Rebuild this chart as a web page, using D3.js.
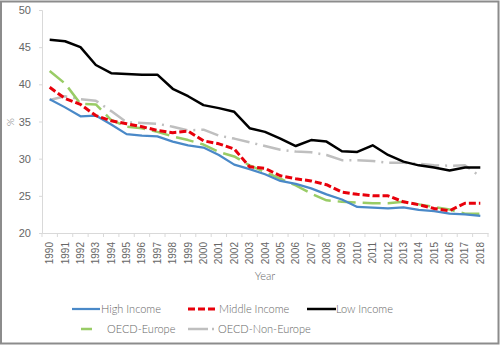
<!DOCTYPE html>
<html>
<head>
<meta charset="utf-8">
<script src="https://cdn.jsdelivr.net/npm/d3@7"></script>
<style>
  body { margin: 0; background: #fff; }
  svg { display: block; font-family: "Lato", "Open Sans", sans-serif; }
</style>
</head>
<body>
<div id="chart"></div>
<script>
const years = d3.range(1990, 2019);
const highIncome = [38.0, 36.9, 35.7, 35.8, 34.6, 33.3, 33.1, 33.0, 32.3, 31.8, 31.5, 30.5, 29.2, 28.6, 27.9, 27.0, 26.6, 26.0, 25.2,
  24.5, 23.5, 23.4, 23.3, 23.45, 23.1, 22.95, 22.6, 22.5, 22.3];
const middleIncome = [39.6, 38.1, 37.3, 35.8, 35.1, 34.7, 34.3, 33.8, 33.5, 33.7, 32.4, 32.0, 31.3, 28.9, 28.7, 27.7, 27.3, 27.0, 26.5,
  25.5, 25.2, 25.0, 25.0, 24.2, 23.8, 23.3, 23.0, 24.0, 24.0];
const lowIncome = [46.0, 45.8, 45.0, 42.6, 41.5, 41.4, 41.3, 41.3, 39.4, 38.4, 37.2, 36.8, 36.3, 34.1, 33.6, 32.7, 31.7, 32.5, 32.3,
  31.0, 30.9, 31.8, 30.5, 29.6, 29.1, 28.8, 28.4, 28.8, 28.8];
const oecdEurope = [41.8, 40.1, 37.4, 37.3, 35.2, 34.3, 34.1, 33.6, 33.0, 32.5, 31.9, 30.9, 30.3, 29.1, 28.2, 27.3, 26.4, 25.3, 24.4,
  24.2, 24.1, 24.0, 24.0, 24.2, 23.85, 23.5, 23.15, 22.6, 22.6];
const oecdNonEurope = [37.9, 38.4, 38.0, 37.8, 36.4, 34.9, 34.8, 34.7, 34.3, 33.8, 33.9, 33.1, 32.7, 32.2, 31.7, 31.2, 30.95, 30.85, 30.5,
  29.8, 29.8, 29.7, 29.45, 29.45, 29.3, 29.1, 29.05, 29.1, 27.6];
const yTicks = [20, 25, 30, 35, 40, 45, 50];

const series = [
  { name: "High Income", values: highIncome, color: "#4a89c8", width: 2.25, dash: null },
  { name: "Middle Income", values: middleIncome, color: "#e8000b", width: 3, dash: "7 3" },
  { name: "Low Income", values: lowIncome, color: "#000000", width: 2.5, dash: null },
  { name: "OECD-Europe", values: oecdEurope, color: "#99cc66", width: 2.5, dash: "18 7" },
  { name: "OECD-Non-Europe", values: oecdNonEurope, color: "#bfbfbf", width: 2.5, dash: "18 6 2 6" }
];

const W = 502, H = 347;
const svg = d3.select("#chart").append("svg")
  .attr("width", W)
  .attr("height", H);

// outer frame
svg.append("rect")
  .attr("x", 1).attr("y", 1.5)
  .attr("width", 497.5).attr("height", 342)
  .attr("fill", "#fff")
  .attr("stroke", "#8c8c8c")
  .attr("stroke-width", 2);

const x = d3.scaleBand().domain(years).range([42, 488]);
const y = d3.scaleLinear().domain([20, 50]).range([233, 10]);

const textColor = "#666666";
const axisColor = "#d9d9d9";

// y axis
const yAxis = svg.append("g")
  .attr("transform", "translate(42,0)")
  .call(d3.axisLeft(y).tickValues(yTicks).tickSize(3).tickPadding(8));
yAxis.select(".domain").attr("stroke", axisColor);
yAxis.selectAll(".tick line").attr("stroke", axisColor);
yAxis.selectAll("text")
  .attr("fill", textColor)
  .style("font-size", "11px")
  .style("font-weight", 300);

// x axis
const xAxis = svg.append("g")
  .attr("transform", "translate(0,233)")
  .call(d3.axisBottom(x).tickSize(0).tickSizeOuter(0));
xAxis.select(".domain").attr("stroke", axisColor);
xAxis.selectAll("text")
  .attr("fill", textColor)
  .style("font-size", "10px")
  .style("font-weight", 300)
  .attr("text-anchor", "end")
  .attr("transform", "rotate(-90)")
  .attr("x", -9)
  .attr("y", 0)
  .attr("dy", "0.35em");

// small ticks on the band edges
svg.append("g")
  .selectAll("line")
  .data(years.map(d => x(d)).concat([x.range()[1]]))
  .enter()
  .append("line")
  .attr("x1", d => d).attr("x2", d => d)
  .attr("y1", 233).attr("y2", 237)
  .attr("stroke", axisColor);

// axis titles
svg.append("text")
  .attr("x", 265).attr("y", 280)
  .attr("text-anchor", "middle")
  .attr("fill", textColor)
  .style("font-size", "11px")
  .style("font-weight", 300)
  .text("Year");

svg.append("text")
  .attr("transform", "translate(14,122) rotate(-90)")
  .attr("text-anchor", "middle")
  .attr("fill", textColor)
  .style("font-size", "10px")
  .style("font-weight", 300)
  .text("%");

// lines
const line = d3.line()
  .x((d, i) => x(years[i]) + x.bandwidth() / 2)
  .y(d => y(d));

// draw order: back to front
[4, 3, 0, 1, 2].forEach(k => {
  const s = series[k];
  svg.append("path")
    .datum(s.values)
    .attr("d", line)
    .attr("fill", "none")
    .attr("stroke", s.color)
    .attr("stroke-width", s.width)
    .attr("stroke-dasharray", s.dash)
    .attr("stroke-linejoin", "round");
});

// legend
const legendPos = [
  { x: 72, y: 309, x2: 100, tx: 101, dash: null },
  { x: 188, y: 309, x2: 215, tx: 219, dash: "7 3" },
  { x: 307, y: 309, x2: 336, tx: 336, dash: null },
  { x: 72, y: 329, x2: 100, tx: 107, dash: "0 9 11 100" },
  { x: 188, y: 329, x2: 215, tx: 218, dash: "20 4 2 100" }
];

const legend = svg.append("g");
series.forEach((s, i) => {
  const p = legendPos[i];
  legend.append("line")
    .attr("x1", p.x).attr("x2", p.x2)
    .attr("y1", p.y).attr("y2", p.y)
    .attr("stroke", s.color)
    .attr("stroke-width", s.width)
    .attr("stroke-dasharray", p.dash);
  legend.append("text")
    .attr("x", p.tx).attr("y", p.y)
    .attr("dy", "0.35em")
    .attr("fill", textColor)
    .style("font-size", "11px")
    .style("font-weight", 300)
    .text(s.name);
});
</script>
</body>
</html>
